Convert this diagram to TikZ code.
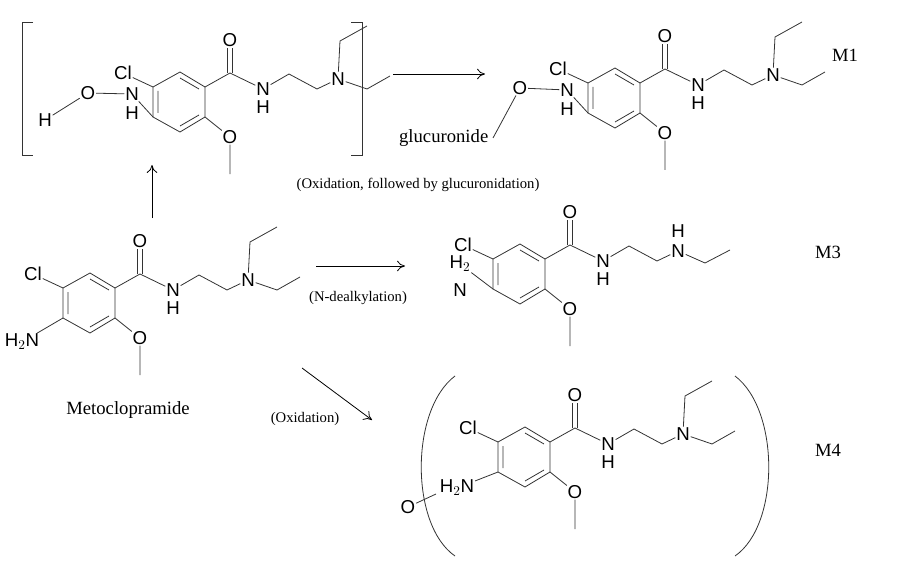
\documentclass[tikz,border=0pt]{standalone}
\usepackage{fontspec}
\setmainfont{Liberation Serif}
\newfontfamily\atomfont{Liberation Sans}
\usetikzlibrary{calc,arrows.meta}

\tikzset{
  atom/.style={font=\atomfont\fontsize{14}{14}\selectfont, inner sep=0.5pt},
  caption/.style={font=\fontsize{11}{12}\selectfont},
  label/.style={font=\fontsize{14}{16}\selectfont},
  bond/.style={line width=0.6pt, draw=black!80},
  react/.style={line width=0.6pt, -{To[length=6pt,width=8pt,open]}},
}

% ring with Cl, amide, chain and OMe; #1 = shift, #2 = name prefix
\newcommand{\core}[2]{%
\begin{scope}[shift={#1}]
\coordinate (#2c1) at (0,0);
\coordinate (#2c2) at (27,-15);
\coordinate (#2c3) at (52,0);
\coordinate (#2c4) at (52,30);
\coordinate (#2c5) at (27,45);
\coordinate (#2c6) at (0,30);
\draw [bond] (#2c1)--(#2c2)--(#2c3)--(#2c4)--(#2c5)--(#2c6)--cycle;
\draw [bond] (5,4)--(5,26) (27,-9)--(46,2) (46,28)--(27,39);
\node [atom] (#2cl) at (-30,-14) {Cl};
\draw [bond] (#2cl)--(#2c1);
\coordinate (#2co) at (77,-14);
\node [atom] (#2o) at (77,-47) {O};
\draw [bond] (#2c3)--(#2co);
\draw [bond] ($(#2co)+(-2.5,0)$)--($(#2o.south)+(-2.5,0)$) ($(#2co)+(2.5,0)$)--($(#2o.south)+(2.5,0)$);
\node [atom] (#2na) at (110,2) {N};
\node [atom] at (110,20) {H};
\draw [bond] (#2co)--(#2na);
\coordinate (#2ch1) at (136,-13);
\coordinate (#2ch2) at (164,2);
\draw [bond] (#2na)--(#2ch1)--(#2ch2);
\node [atom] (#2om) at (77,50) {O};
\draw [bond] (#2c4)--(#2om) (#2om)--(77,87);
\end{scope}}

\begin{document}
\begin{tikzpicture}[x=0.75pt,y=-0.75pt]
\useasboundingbox (0,0) rectangle (897,567);

%% Metoclopramide
\core{(63,288)}{m}
\begin{scope}[shift={(63,288)}]
\node [atom] (mnt) at (185,-8) {N};
\draw [bond] (mch2)--(mnt) (mnt)--(187,-46)--(214,-61) (mnt)--(214,2)--(237,-11);
\node [atom] (mnh) at (-41,54) {H$_2$N};
\draw [bond] (mc6)--(mnh);
\end{scope}
\node [label] (meto) at (128,410) {Metoclopramide};

%% hydroxylamine intermediate
\core{(153,87)}{h}
\begin{scope}[shift={(153,87)}]
\node [atom] (hnt) at (185,-8) {N};
\draw [bond] (hch2)--(hnt) (hnt)--(187,-46)--(214,-61) (hnt)--(214,2)--(237,-11);
\node [atom] (hn) at (-21,7) {N};
\node [atom] at (-21,26) {H};
\node [atom] (ho) at (-65,6) {O};
\node [atom] (hh) at (-108,33) {H};
\draw [bond] (hc6)--(hn) (hn)--(ho) (ho)--(hh);
\end{scope}
\draw [bond] (33,22)--(22,22)--(22,155)--(33,155);
\draw [bond] (351,22)--(362,22)--(362,155)--(351,155);

%% M1
\core{(588,83)}{a}
\begin{scope}[shift={(588,83)}]
\node [atom] (ant) at (185,-8) {N};
\draw [bond] (ach2)--(ant) (ant)--(187,-46)--(214,-61) (ant)--(214,2)--(237,-11);
\node [atom] (an) at (-21,7) {N};
\node [atom] at (-21,26) {H};
\node [atom] (ao) at (-68,5) {O};
\draw [bond] (ac6)--(an) (an)--(ao);
\end{scope}
\node [label, anchor=east] (gluc) at (493,138) {glucuronide};
\draw [bond] (gluc.east)--(ao);
\node [label] (m1) at (845,55) {M1};

%% M3
\core{(493,259)}{b}
\begin{scope}[shift={(493,259)}]
\node [atom] (bnt) at (185,-8) {N};
\node [atom] at (185,-28) {H};
\draw [bond] (bch2)--(bnt) (bnt)--(212,4)--(237,-9);
\node [atom] (bh2) at (-33,5) {H$_2$};
\node [atom] at (-33,31) {N};
\draw [bond] (bc6)--(bh2);
\end{scope}
\node [label] (m3) at (828,252) {M3};

%% M4
\core{(498,442)}{c}
\begin{scope}[shift={(498,442)}]
\node [atom] (cnt) at (185,-8) {N};
\draw [bond] (cch2)--(cnt) (cnt)--(187,-46)--(214,-61) (cnt)--(214,2)--(237,-11);
\node [atom] (cnh) at (-41,46) {H$_2$N};
\node [atom] (co) at (-90,65) {O};
\draw [bond] (cc6)--(cnh) (co)--(-62,52);
\end{scope}
\draw [bond] (455,376) .. controls (410,410) and (410,525) .. (455,556);
\draw [bond] (735,376) .. controls (780,410) and (780,525) .. (735,556);
\node [label] (m4) at (828,450) {M4};

%% reactions
\draw [react] (393,74)--(485,74);
\draw [react] (152,218)--(152,165);
\node [caption] (t1) at (418,185) {(Oxidation, followed by glucuronidation)};
\draw [react] (316,266)--(405,266);
\node [caption] (t2) at (358,298) {(N-dealkylation)};
\draw [react] (302,368)--(372,420);
\node [caption] (t3) at (305,419) {(Oxidation)};
\end{tikzpicture}
\end{document}
